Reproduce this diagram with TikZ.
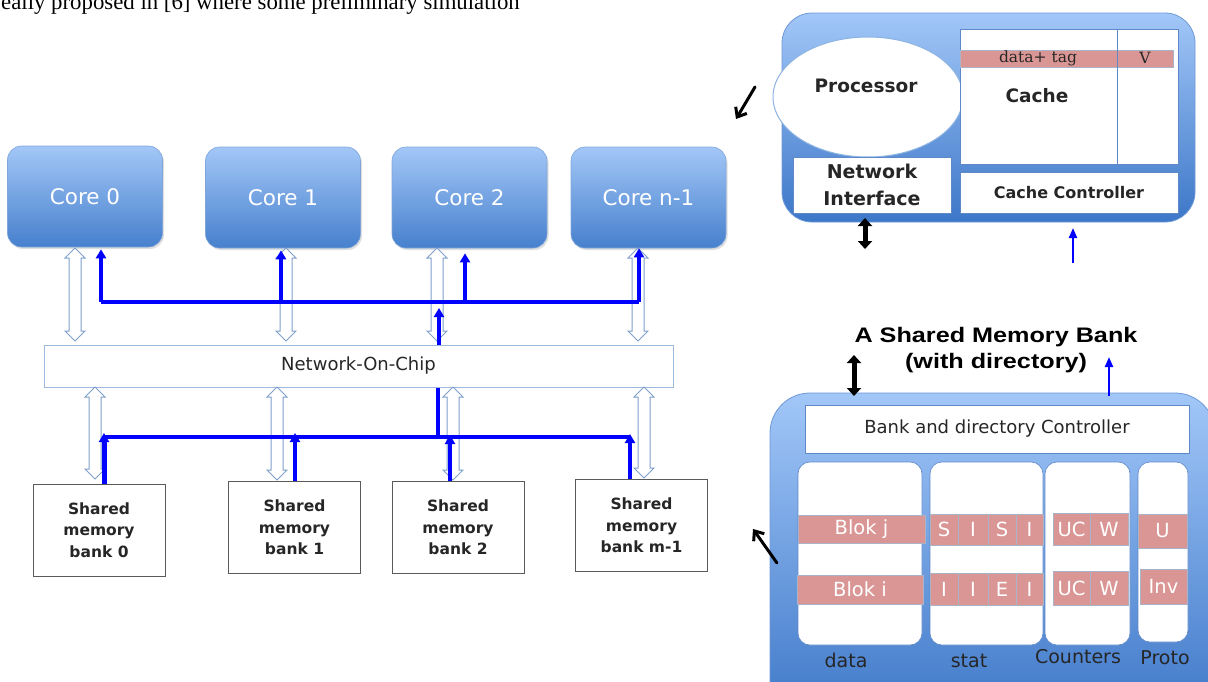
\documentclass[tikz,border=0pt]{standalone}
\usepackage{fontspec}
\setmainfont{DejaVu Sans}
\newfontfamily\notefont{Liberation Serif}
\newfontfamily\dserif{DejaVu Serif}
\newfontfamily\arialfam{Liberation Sans}
\usetikzlibrary{arrows.meta,shapes.geometric,shadows}
\newcommand\fpx[2]{\fontsize{#1}{#2}\selectfont}
\definecolor{cTop}{HTML}{A3C7F7}
\definecolor{cBot}{HTML}{4680CD}
\definecolor{cEdge}{HTML}{7FA6DB}
\definecolor{pTop}{HTML}{A2C7F8}
\definecolor{pBot}{HTML}{3D77C8}
\definecolor{pEdge}{HTML}{6E98D6}
\definecolor{hollowedge}{HTML}{7F9FCB}
\definecolor{nocedge}{HTML}{9DB9DD}
\definecolor{busblue}{HTML}{0000FF}
\definecolor{redcell}{HTML}{D99694}
\definecolor{redborder}{HTML}{A9B4C8}
\definecolor{boxedge}{HTML}{5A5A5A}
\definecolor{wedge}{HTML}{5E88C8}
\definecolor{elledge}{HTML}{8DB3E2}
\definecolor{txt}{HTML}{262626}
\newcommand\hollowarrow[3]{\draw[hollowarr] (#1,#2) -- ++(10,10) -- ++(-4,0) -- (#1+6,#3-10) -- ++(4,0) -- (#1,#3) -- ++(-10,-10) -- ++(4,0) -- (#1-6,#2+10) -- ++(-4,0) -- cycle;}
\begin{document}
\begin{tikzpicture}[x=1pt,y=-1pt,
  core/.style={rounded corners=14pt, top color=cTop, bottom color=cBot, draw=cEdge, line width=0.6pt, text=white, font=\fpx{21.5}{25}, minimum width=155pt, minimum height=101pt, inner sep=0pt, drop shadow={opacity=0.25, shadow xshift=1.5pt, shadow yshift=-2pt}},
  noc/.style={fill=white, draw=nocedge, line width=1pt, minimum width=629pt, minimum height=42pt, inner sep=0pt, text=txt, font=\fpx{18}{22}},
  bank/.style={fill=white, draw=boxedge, line width=1pt, minimum width=132pt, minimum height=92pt, inner sep=0pt, align=center, text=txt, font=\bfseries\fpx{15.5}{21.5}},
  hollowarr/.style={fill=white, draw=hollowedge, line width=1pt},
  bus/.style={draw=busblue, line width=3.5pt},
  bustip/.style={-{Triangle[width=10pt,length=9pt]}},
  thinblue/.style={draw=busblue, line width=2.2pt, -{Triangle[width=8pt,length=10pt]}},
  blackdbl/.style={draw=black, line width=5pt, {Triangle[width=14pt,length=8pt]}-{Triangle[width=14pt,length=8pt]}},
  blackarr/.style={draw=black, line width=3pt, line cap=round, -{Straight Barb[width=13pt,length=8pt]}},
  container/.style={top color=pTop, bottom color=pBot, draw=pEdge, line width=0.8pt, inner sep=0pt},
  wbox/.style={fill=white, draw=wedge, line width=0.6pt, inner sep=0pt, text=txt},
  col/.style={fill=white, draw=wedge, line width=0.6pt, rounded corners=12pt, inner sep=0pt},
  cell/.style={fill=redcell, draw=redborder, line width=0.7pt, text=white, inner sep=0pt, font=\fpx{19.5}{22}},
  lbl/.style={text=txt, inner sep=0pt, font=\fpx{19}{22}}
]
\useasboundingbox (0,0) rectangle (1208,681);
\clip (0,0) rectangle (1208,681);

% cropped note text (cut by the top edge, as in the reference)
\node[anchor=base west, inner sep=0pt, font=\notefont\fpx{22.8}{26}] (note) at (1,9.5) {eally proposed in [6] where some preliminary simulation};

% cores
\node[core] (c0) at (85,196.5) {Core 0};
\node[core] (c1) at (283,197.5) {Core 1};
\node[core] (c2) at (469.5,197.5) {Core 2};
\node[core] (cn) at (648.5,197.5) {Core n-1};

% network on chip
\node[noc] (noc) at (358.5,366) {Network-On-Chip};

% banks
\node[bank] (b0) at (99,530) {Shared\\memory\\bank 0};
\node[bank] (b1) at (294.5,527.5) {Shared\\memory\\bank 1};
\node[bank] (b2) at (458,527.5) {Shared\\memory\\bank 2};
\node[bank] (bm) at (641.5,525.5) {Shared\\memory\\bank m-1};

% hollow double arrows
\hollowarrow{75}{248}{341}
\hollowarrow{286}{248}{341}
\hollowarrow{437}{248}{341}
\hollowarrow{638}{248}{341}
\hollowarrow{95}{387}{479}
\hollowarrow{277}{387}{480}
\hollowarrow{453}{387}{480}
\hollowarrow{644}{387}{478}

% upper bus
\coordinate (t0) at (101,302);
\coordinate (t1) at (281,302);
\coordinate (t2) at (465,302);
\coordinate (tn) at (639,302);
\draw[bus] (t0) -- (tn);
\draw[bus,bustip,shorten >=2pt] (t0) -- (t0 |- c0.south);
\draw[bus,bustip,shorten >=2pt] (t1) -- (t1 |- c1.south);
\draw[bus,bustip,shorten >=5pt] (t2) -- (t2 |- c2.south);
\draw[bus,bustip] (tn) -- (tn |- cn.south);
\coordinate (nu) at (439,308);
\draw[bus,bustip] (nu |- noc.north) -- (nu);

% lower bus
\coordinate (nd) at (438,435);
\draw[bus] (nd |- noc.south) -- (nd);
\coordinate (l0) at (104,437);
\coordinate (lm) at (630,437);
\draw[bus] (l0) -- (lm);
\coordinate (k0) at (104,433);
\coordinate (k1) at (295,433);
\coordinate (k2) at (450,435);
\coordinate (km) at (630,434);
\draw[bus,bustip,line width=5pt] (k0 |- b0.north) -- (k0);
\draw[bus,bustip] (k1 |- b1.north) -- (k1);
\draw[bus,bustip] (k2 |- b2.north) -- (k2);
\draw[bus,bustip] (km |- bm.north) -- (km);

% processor tile
\node[container, minimum width=413pt, minimum height=209pt, rounded corners=30pt] (pc) at (988.5,117.5) {};
\node[ellipse, fill=white, draw=elledge, line width=1pt, minimum width=190pt, minimum height=120pt, inner sep=0pt] (proc) at (868,97) {};
\node[text=txt, inner sep=0pt, font=\bfseries\fpx{18.5}{22}] (proct) at (866,86) {Processor};
\node[wbox, minimum width=158pt, minimum height=56pt, align=center, font=\bfseries\fpx{19}{27}] (ni) at (872,185) {Network\\Interface};
\node[wbox, minimum width=218pt, minimum height=135pt] (cache) at (1069,96.5) {};
\node[fill=redcell, draw=redborder, line width=0.6pt, minimum width=213pt, minimum height=17pt, inner sep=0pt] (tagbar) at (1066.5,58.5) {};
\coordinate (dv) at (1117,0);
\draw[draw=wedge, line width=0.8pt] (dv |- cache.north) -- (dv |- cache.south);
\node[text=txt, inner sep=0pt, font=\dserif\fpx{15.5}{18}] (tagtxt) at (1038,58) {data+ tag};
\node[text=txt, inner sep=0pt, font=\dserif\fpx{15.5}{18}] (vtxt) at (1145,58) {V};
\node[text=txt, inner sep=0pt, font=\bfseries\fpx{18.5}{22}] (cachet) at (1037,96) {Cache};
\node[wbox, minimum width=218pt, minimum height=41pt, font=\bfseries\fpx{16}{19}] (cc) at (1069,192.5) {Cache Controller};
\coordinate (nia) at (865,218);
\coordinate (nib) at (865,249);
\draw[blackdbl] (nia) -- (nib);
\coordinate (cca) at (1073,263);
\coordinate (ccb) at (1073,228);
\draw[thinblue] (cca) -- (ccb);
\coordinate (pa1) at (755,87);
\coordinate (pa2) at (736,119);
\draw[blackarr] (pa1) -- (pa2);

% shared memory bank tile
\node[font=\arialfam\bfseries\fpx{21}{25.5}, align=center, xscale=1.2, inner sep=0pt] (title) at (996,350) {A Shared Memory Bank\\(with directory)};
\node[container, minimum width=445pt, minimum height=330pt, rounded corners=40pt] (smb) at (992.5,558) {};
\coordinate (ma) at (854,355);
\coordinate (mb) at (854,396);
\draw[blackdbl] (ma) -- (mb);
\coordinate (ba) at (1109,396);
\coordinate (bb) at (1109,357);
\draw[thinblue] (ba) -- (bb);
\node[wbox, minimum width=384pt, minimum height=48pt, font=\fpx{18}{22}] (bdc) at (997,429) {Bank and directory Controller};
\node[col, minimum width=124pt, minimum height=183pt] (cdata) at (860,553.5) {};
\node[col, minimum width=113pt, minimum height=183pt] (cstat) at (986.5,553.5) {};
\node[col, minimum width=85pt, minimum height=183pt] (ccnt) at (1087.5,553.5) {};
\node[col, minimum width=50pt, minimum height=180pt] (cproto) at (1163,552) {};
\node[lbl] (ldata) at (846,660) {data};
\node[lbl] (lstat) at (969,661) {stat};
\node[lbl] (lcnt) at (1078,657) {Counters};
\node[lbl] (lproto) at (1165,658) {Proto};

% data cells
\node[cell, minimum width=127pt, minimum height=28pt] (bj) at (861.5,529) {Blok j};
\node[cell, minimum width=126pt, minimum height=29pt] (bi) at (860,589.5) {Blok i};
% stat cells
\node[cell, minimum width=28pt, minimum height=31pt] (sj1) at (944,529.5) {S};
\node[cell, minimum width=30pt, minimum height=31pt] (sj2) at (973,529.5) {I};
\node[cell, minimum width=28pt, minimum height=31pt] (sj3) at (1002,529.5) {S};
\node[cell, minimum width=27pt, minimum height=31pt] (sj4) at (1029.5,529.5) {I};
\node[cell, minimum width=28pt, minimum height=32pt] (si1) at (944,589.5) {I};
\node[cell, minimum width=30pt, minimum height=32pt] (si2) at (973,589.5) {I};
\node[cell, minimum width=28pt, minimum height=32pt] (si3) at (1002,589.5) {E};
\node[cell, minimum width=27pt, minimum height=32pt] (si4) at (1029.5,589.5) {I};
% counter cells
\node[cell, minimum width=37pt, minimum height=32pt] (uj) at (1071.5,529) {UC};
\node[cell, minimum width=38pt, minimum height=32pt] (wj) at (1109,529) {W};
\node[cell, minimum width=37pt, minimum height=34pt] (ui) at (1071.5,588) {UC};
\node[cell, minimum width=38pt, minimum height=34pt] (wi) at (1109,588) {W};
% proto cells
\node[cell, minimum width=49pt, minimum height=34pt] (pu) at (1162.5,531) {U};
\node[cell, minimum width=47pt, minimum height=35pt] (pinv) at (1163.5,586.5) {Inv};

\coordinate (sa1) at (777,563);
\coordinate (sa2) at (753,529);
\draw[blackarr] (sa1) -- (sa2);
\end{tikzpicture}
\end{document}
